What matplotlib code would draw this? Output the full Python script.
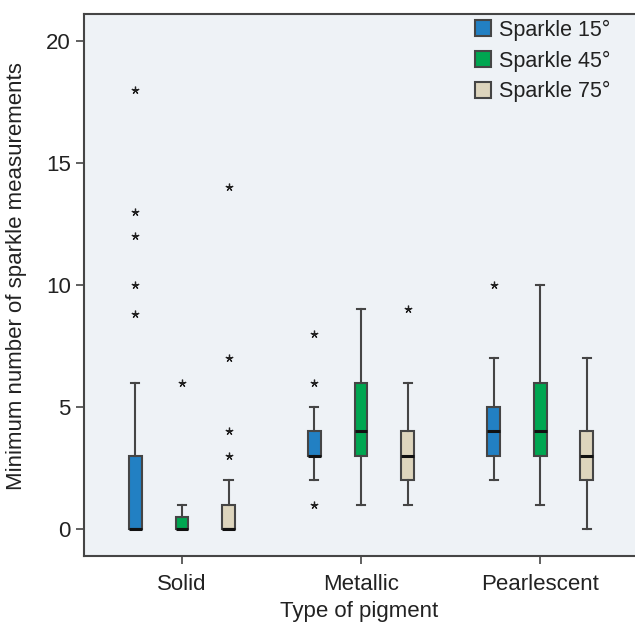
import numpy as np
import matplotlib.pyplot as plt
from matplotlib.patches import Patch

plt.rcParams['font.family'] = ['Liberation Sans', 'DejaVu Sans']

groups = ['Solid', 'Metallic', 'Pearlescent']
series = ['Sparkle 15°', 'Sparkle 45°', 'Sparkle 75°']
colors = ['#2280c3', '#00a651', '#ddd5bd']

# per series, per group: whislo, q1, med, q3, whishi
stats_15 = [(0, 0, 0, 3, 6), (2, 3, 3, 4, 5), (2, 3, 4, 5, 7)]
stats_45 = [(0, 0, 0, 0.5, 1), (1, 3, 4, 6, 9), (1, 3, 4, 6, 10)]
stats_75 = [(0, 0, 0, 1, 2), (1, 2, 3, 4, 6), (0, 2, 3, 4, 7)]

fliers_15 = [[8.8, 10, 12, 13, 18], [1, 6, 8], [10]]
fliers_45 = [[6], [], []]
fliers_75 = [[3, 4, 7, 14], [9], []]

all_stats = [stats_15, stats_45, stats_75]
all_fliers = [fliers_15, fliers_45, fliers_75]

fig = plt.figure(figsize=(6.35, 6.26), dpi=100)
ax = fig.add_axes([0.1323, 0.1118, 0.8677, 0.866])
ax.set_facecolor('#eef2f6')

edge = '#454545'
txt = '#222222'
offsets = [-0.26, 0, 0.26]
x = np.arange(len(groups))

for s in range(3):
    bx = []
    for g in range(3):
        lo, q1, med, q3, hi = all_stats[s][g]
        bx.append(dict(whislo=lo, q1=q1, med=med, q3=q3, whishi=hi,
                       fliers=all_fliers[s][g]))
    ax.bxp(bx, positions=x + offsets[s], widths=0.072, patch_artist=True,
           capwidths=0.045, manage_ticks=False,
           boxprops=dict(facecolor=colors[s], edgecolor=edge, linewidth=1.5),
           whiskerprops=dict(color=edge, linewidth=1.5),
           capprops=dict(color=edge, linewidth=1.5),
           medianprops=dict(color='#111111', linewidth=2.2),
           flierprops=dict(marker=(5, 2, 0), markersize=5.5,
                           markeredgecolor='#222222', markeredgewidth=0.9,
                           linestyle='none'))

ax.set_xlim(-0.547, 2.53)
ax.set_ylim(-1.1, 21.1)
ax.set_xticks(x)
ax.set_xticklabels(groups)
ax.set_yticks([0, 5, 10, 15, 20])
ax.tick_params(labelsize=16, color=edge, labelcolor=txt, length=6, width=1.2)
ax.tick_params(axis='x', pad=7)
ax.set_xlabel('Type of pigment', fontsize=16, color=txt, labelpad=4)
ax.set_ylabel('Minimum number of sparkle measurements', fontsize=16,
              color=txt)
ax.yaxis.set_label_coords(-0.103, 0.517)
for sp in ['left', 'bottom', 'top']:
    ax.spines[sp].set_color(edge)
    ax.spines[sp].set_linewidth(1.5)
ax.spines['right'].set_visible(False)

handles = [Patch(facecolor=c, edgecolor=edge, linewidth=1.5) for c in colors]
leg = ax.legend(handles, series, loc='upper right', frameon=False, fontsize=15.5,
                handlelength=0.75, handleheight=0.75, handletextpad=0.35,
                labelspacing=0.45, bbox_to_anchor=(0.99, 1.025))
for t in leg.get_texts():
    t.set_color(txt)

fig.savefig('out.png', dpi=100)
